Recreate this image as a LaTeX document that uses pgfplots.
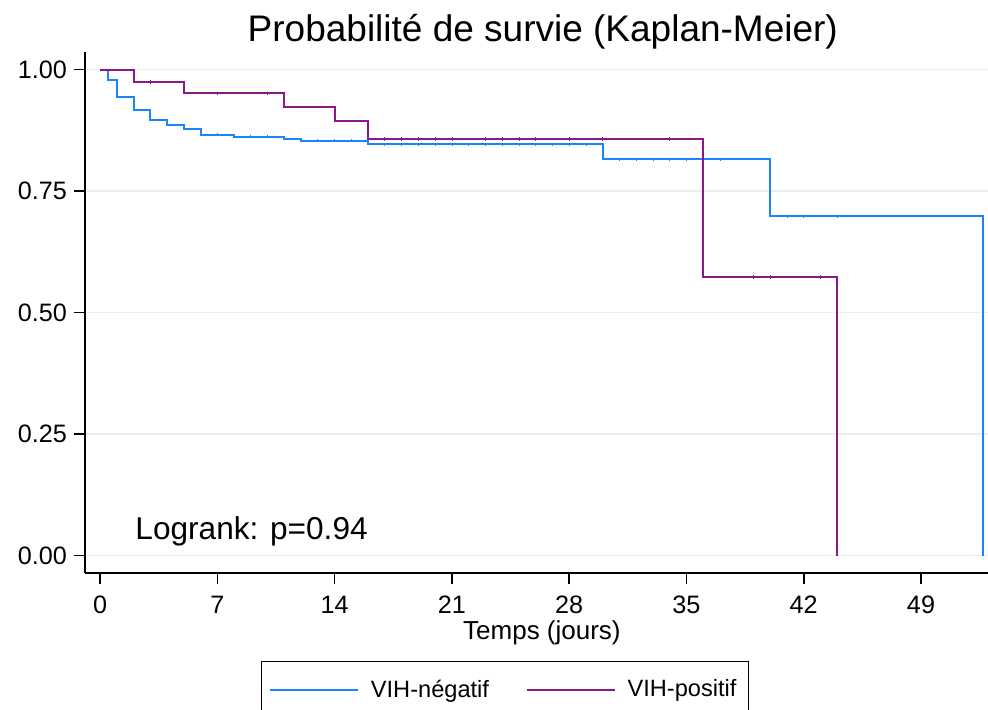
\documentclass[border=0pt]{standalone}
\usepackage{pgfplots}
\pgfplotsset{compat=1.18}
\usepackage{fontspec}
\setmainfont{Liberation Sans}
\definecolor{kmblue}{RGB}{26,133,255}
\definecolor{kmpurple}{RGB}{138,24,138}
\definecolor{gridc}{RGB}{232,240,244}
\begin{document}
\begin{tikzpicture}
\begin{axis}[
  scale only axis,
  width=451.5pt, height=260.7pt,
  xmin=-0.9, xmax=53, ymin=-0.036, ymax=1.037,
  axis x line*=bottom, axis y line*=left,
  axis line style={line width=0.8pt, -},
  xtick={0,7,14,21,28,35,42,49},
  ytick={0,0.25,0.5,0.75,1},
  yticklabel style={/pgf/number format/.cd, fixed, fixed zerofill, precision=2},
  xticklabel style={yshift=-2.5pt},
  /pgf/number format/assume math mode=true,
  tick align=outside,
  major tick length=5.5pt,
  tick style={black, line width=0.8pt},
  ymajorgrids, grid style={gridc, line width=0.8pt},
  ticklabel style={font=\fontsize{12.6}{15}\selectfont},
  title={Probabilité de survie (Kaplan-Meier)},
  title style={font=\fontsize{18.5}{22}\selectfont, at={(0.507,1)}, anchor=base, yshift=-0.8pt, inner sep=0pt},
  xlabel={Temps (jours)},
  xlabel style={font=\fontsize{13}{15}\selectfont, at={(0.506,0)}, anchor=base, yshift=-33pt, inner sep=0pt},
  legend columns=2,
  legend style={at={(0.465,-0.169)}, anchor=north, draw=black, line width=0.6pt,
    font=\fontsize{11.8}{14}\selectfont, inner xsep=4pt, inner ysep=7pt,
    /tikz/every odd column/.append style={column sep=4pt},
    /tikz/every even column/.append style={column sep=16.5pt}},
  legend image code/.code={\draw[#1, line width=0.8pt] (0pt,0pt) -- (44pt,0pt);},
  clip=false,
]
\addplot[kmblue, line width=1pt, const plot] coordinates {
(0,1) (0.5,0.978) (1,0.943) (2,0.916) (3,0.897) (4,0.885) (5,0.877) (6,0.866)
(8,0.862) (11,0.858) (12,0.854) (16,0.846) (30,0.815) (40,0.698) (52.7,0.698) (52.7,0)
};
\addlegendentry{VIH-négatif}
\addplot[kmpurple, line width=1pt, const plot] coordinates {
(0,1) (2,0.974) (5,0.951) (11,0.923) (14,0.894) (16,0.857) (36,0.573) (44,0.573) (44,0)
};
\addlegendentry{VIH-positif}
\addplot[kmblue, only marks, mark=|, mark size=0.9pt, mark options={line width=0.4pt}, forget plot] coordinates {
(7,0.866) (9,0.862) (10,0.862) (13,0.854) (14,0.854) (15,0.854)
(17,0.846) (18,0.846) (19,0.846) (20,0.846) (21,0.846) (22,0.846) (23,0.846) (24,0.846) (25,0.846) (26,0.846) (27,0.846) (28,0.846) (29,0.846)
(31,0.815) (32,0.815) (33,0.815) (34,0.815) (35,0.815) (37,0.815)
(41,0.698) (42,0.698) (44,0.698)
};
\addplot[kmpurple, only marks, mark=|, mark size=0.9pt, mark options={line width=0.4pt}, forget plot] coordinates {
(3,0.974) (7,0.951) (10,0.951)
(17,0.857) (18,0.857) (19,0.857) (20,0.857) (21,0.857) (23,0.857) (24,0.857) (25,0.857) (26,0.857) (28,0.857) (30,0.857) (34,0.857)
(39,0.573) (40,0.573) (43,0.573)
};
\node[anchor=base west, inner sep=0pt, font=\fontsize{15.8}{18}\selectfont] at (axis cs:2.09,0.033) {Logrank: p=0.94};
\end{axis}
\pgfresetboundingbox
\path[use as bounding box] (-42.5pt,-68pt) rectangle (451.5pt,286.5pt);
\end{tikzpicture}
\end{document}
